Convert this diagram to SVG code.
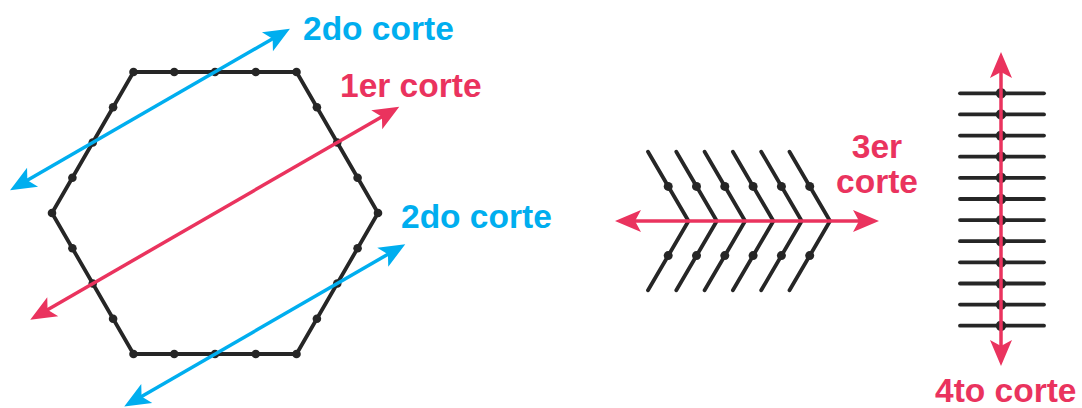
<svg xmlns="http://www.w3.org/2000/svg" width="1082" height="408" viewBox="0 0 1082 408">
<style>
.edge{fill:none;stroke:#262626;stroke-width:3.8;stroke-linejoin:round;stroke-linecap:round}
.dot{fill:#262626}
.red{stroke:#EA335E;stroke-width:3.5;fill:none}
.blue{stroke:#00AEEF;stroke-width:3.5;fill:none}
.lbl{font-family:"Liberation Sans",Arial,sans-serif;font-weight:bold;font-size:33.5px}
.lr{fill:#EA335E}
.lb{fill:#00AEEF}
</style>
<defs>
<marker id="ar" markerUnits="userSpaceOnUse" viewBox="-17 -12 28 24" markerWidth="28" markerHeight="24" refX="0" refY="0" orient="auto-start-reverse"><path d="M10,0 L-16,-11 L-10,0 L-16,11 Z" fill="#EA335E"/></marker>
<marker id="ab" markerUnits="userSpaceOnUse" viewBox="-17 -12 28 24" markerWidth="28" markerHeight="24" refX="0" refY="0" orient="auto-start-reverse"><path d="M10,0 L-16,-11 L-10,0 L-16,11 Z" fill="#00AEEF"/></marker>
</defs>
<rect width="1082" height="408" fill="#ffffff"/>
<g id="hexagon">
<polygon class="edge" points="133.5,72 296.5,72 378,213 296.5,354 133.5,354 52,213"/>
<g class="dot">
<circle cx="133.5" cy="72" r="4.3"/><circle cx="174.25" cy="72" r="4.3"/><circle cx="215" cy="72" r="4.3"/><circle cx="255.75" cy="72" r="4.3"/><circle cx="296.5" cy="72" r="4.3"/>
<circle cx="316.9" cy="107.25" r="4.3"/><circle cx="337.25" cy="142.5" r="4.3"/><circle cx="357.6" cy="177.75" r="4.3"/><circle cx="378" cy="213" r="4.3"/>
<circle cx="357.6" cy="248.25" r="4.3"/><circle cx="337.25" cy="283.5" r="4.3"/><circle cx="316.9" cy="318.75" r="4.3"/>
<circle cx="133.5" cy="354" r="4.3"/><circle cx="174.25" cy="354" r="4.3"/><circle cx="215" cy="354" r="4.3"/><circle cx="255.75" cy="354" r="4.3"/><circle cx="296.5" cy="354" r="4.3"/>
<circle cx="113.1" cy="318.75" r="4.3"/><circle cx="92.75" cy="283.5" r="4.3"/><circle cx="72.4" cy="248.25" r="4.3"/><circle cx="52" cy="213" r="4.3"/>
<circle cx="72.4" cy="177.75" r="4.3"/><circle cx="92.75" cy="142.5" r="4.3"/><circle cx="113.1" cy="107.25" r="4.3"/>
</g>
</g>
<g id="chevrons">
<g class="edge">
<polyline points="648,151.7 688.5,221 648,290.3"/>
<polyline points="676.3,151.7 716.8,221 676.3,290.3"/>
<polyline points="704.6,151.7 745.1,221 704.6,290.3"/>
<polyline points="732.9,151.7 773.4,221 732.9,290.3"/>
<polyline points="761.2,151.7 801.7,221 761.2,290.3"/>
<polyline points="789.5,151.7 830,221 789.5,290.3"/>
</g>
<g class="dot">
<circle cx="668.2" cy="186.4" r="4.5"/><circle cx="668.2" cy="255.6" r="4.5"/>
<circle cx="696.5" cy="186.4" r="4.5"/><circle cx="696.5" cy="255.6" r="4.5"/>
<circle cx="724.8" cy="186.4" r="4.5"/><circle cx="724.8" cy="255.6" r="4.5"/>
<circle cx="753.1" cy="186.4" r="4.5"/><circle cx="753.1" cy="255.6" r="4.5"/>
<circle cx="781.4" cy="186.4" r="4.5"/><circle cx="781.4" cy="255.6" r="4.5"/>
<circle cx="809.7" cy="186.4" r="4.5"/><circle cx="809.7" cy="255.6" r="4.5"/>
</g>
</g>
<g id="ladder">
<g class="edge">
<line x1="960" y1="93.3" x2="1044" y2="93.3"/>
<line x1="960" y1="114.4" x2="1044" y2="114.4"/>
<line x1="960" y1="135.6" x2="1044" y2="135.6"/>
<line x1="960" y1="156.7" x2="1044" y2="156.7"/>
<line x1="960" y1="177.8" x2="1044" y2="177.8"/>
<line x1="960" y1="199" x2="1044" y2="199"/>
<line x1="960" y1="220.1" x2="1044" y2="220.1"/>
<line x1="960" y1="241.2" x2="1044" y2="241.2"/>
<line x1="960" y1="262.3" x2="1044" y2="262.3"/>
<line x1="960" y1="283.5" x2="1044" y2="283.5"/>
<line x1="960" y1="304.6" x2="1044" y2="304.6"/>
<line x1="960" y1="325.7" x2="1044" y2="325.7"/>
</g>
<g class="dot">
<circle cx="1001" cy="93.3" r="5.2"/><circle cx="1001" cy="114.4" r="5.2"/><circle cx="1001" cy="135.6" r="5.2"/><circle cx="1001" cy="156.7" r="5.2"/>
<circle cx="1001" cy="177.8" r="5.2"/><circle cx="1001" cy="199" r="5.2"/><circle cx="1001" cy="220.1" r="5.2"/><circle cx="1001" cy="241.2" r="5.2"/>
<circle cx="1001" cy="262.3" r="5.2"/><circle cx="1001" cy="283.5" r="5.2"/><circle cx="1001" cy="304.6" r="5.2"/><circle cx="1001" cy="325.7" r="5.2"/>
</g>
</g>
<g id="connectors">
<line class="blue" x1="18.7" y1="185.35" x2="281.3" y2="33.7" marker-start="url(#ab)" marker-end="url(#ab)"/>
<line class="red" x1="38.9" y1="314.75" x2="390.6" y2="111.7" marker-start="url(#ar)" marker-end="url(#ar)"/>
<line class="blue" x1="132.9" y1="401.5" x2="396.6" y2="249.25" marker-start="url(#ab)" marker-end="url(#ab)"/>
<line class="red" x1="625" y1="221" x2="869" y2="221" marker-start="url(#ar)" marker-end="url(#ar)"/>
<line class="red" x1="1001" y1="62" x2="1001" y2="356" marker-start="url(#ar)" marker-end="url(#ar)"/>
</g>
<g id="labels">
<text class="lbl lb" x="303" y="40">2do corte</text>
<text class="lbl lr" x="340" y="97">1er corte</text>
<text class="lbl lb" x="401" y="228">2do corte</text>
<text class="lbl lr" x="877" y="158" text-anchor="middle">3er</text>
<text class="lbl lr" x="877" y="193" text-anchor="middle">corte</text>
<text class="lbl lr" x="935" y="402">4to corte</text>
</g>
</svg>
